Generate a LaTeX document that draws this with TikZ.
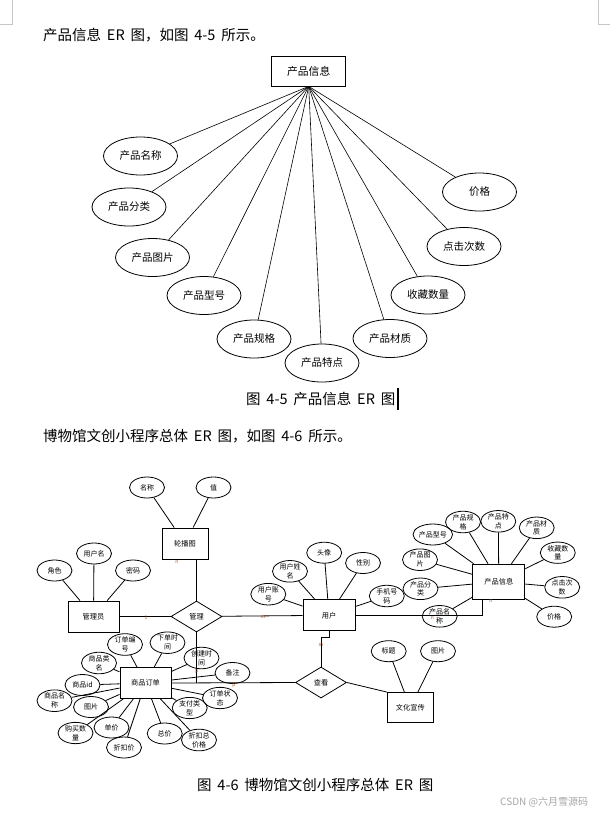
\documentclass[tikz,border=0pt]{standalone}
\usepackage{fontspec}
\setmainfont{Noto Sans CJK SC}
\usetikzlibrary{shapes.geometric}
\newcommand{\fsz}[2]{\fontsize{#1}{#2}\selectfont}
\newcommand{\hsp}{\hspace{0.4em}}
\definecolor{cardc}{RGB}{170,90,40}
\tikzset{
 bodytext/.style={anchor=west, inner sep=0, font=\fsz{14.5}{16}},
 bigent/.style={draw, line width=0.8, minimum width=74, minimum height=30, inner sep=0, font=\fsz{10.8}{12}},
 bigattr/.style={draw, ellipse, line width=0.8, minimum width=74, minimum height=38, inner sep=0, font=\fsz{10.5}{12}},
 bigline/.style={line width=0.6},
 ent/.style={draw, line width=0.9, minimum width=51, minimum height=31, inner sep=0, font=\fsz{7.2}{9}},
 attr/.style={draw, ellipse, line width=0.8, minimum width=35, minimum height=21, inner sep=0, align=center, font=\fsz{7}{8.8}},
 rel/.style={draw, diamond, aspect=1.6, line width=0.8, minimum width=51, minimum height=31, inner sep=0, font=\fsz{7.2}{9}},
 link/.style={line width=0.8},
 card/.style={inner sep=0, font=\fsz{5}{5}, text=cardc},
}
\begin{document}
\begin{tikzpicture}[x=1pt,y=-1pt]
\useasboundingbox[fill=white] (0,0) rectangle (610,814);
% crop marks
\draw[gray!45] (12.3,0) -- (12.3,24) -- (0,24);
\draw[gray!45] (598,0) -- (598,24) -- (610,24);
% texts
\node[bodytext] (t1) at (43,35) {产品信息\hsp ER\hsp 图，如图\hsp 4-5\hsp 所示。};
\node[bodytext] (c1) at (246,398.5) {图\hsp 4-5\hsp 产品信息\hsp ER\hsp 图};
\draw[line width=1.2] (398,388) -- (398,410);
\node[bodytext] (t2) at (43,436) {博物馆文创小程序总体\hsp ER\hsp 图，如图\hsp 4-6\hsp 所示。};
\node[bodytext] (c2) at (197,785) {图\hsp 4-6\hsp 博物馆文创小程序总体\hsp ER\hsp 图};
\node[anchor=west, inner sep=0, font=\fsz{10}{11}, text=gray!70] (wm) at (500,802.5) {CSDN @六月雪源码};

% ===== Figure 4-5 =====
\node[bigent] (P) at (308.7,71) {产品信息};
\node[bigattr] (a1) at (140.5,156) {产品名称};
\node[bigattr] (a2) at (129,207) {产品分类};
\node[bigattr] (a3) at (152.5,257.5) {产品图片};
\node[bigattr] (a4) at (204,295.5) {产品型号};
\node[bigattr] (a5) at (254,339) {产品规格};
\node[bigattr] (a6) at (322,363) {产品特点};
\node[bigattr] (a7) at (390,338.5) {产品材质};
\node[bigattr] (a8) at (428,295) {收藏数量};
\node[bigattr] (a9) at (464,246.5) {点击次数};
\node[bigattr] (a10) at (479.5,192) {价格};
\foreach \i in {1,...,10} \draw[bigline] (P.south) -- (a\i);

% ===== Figure 4-6 =====
% 轮播图
\node[ent, minimum width=46] (lbt) at (185,543.5) {轮播图};
\node[attr] (mc) at (147,487.5) {名称};
\node[attr] (zhi) at (213.5,487.5) {值};
\draw[link] (mc) -- (lbt);
\draw[link] (zhi) -- (lbt);
% 管理员
\node[ent] (gly) at (93.5,616.5) {管理员};
\node[attr] (js) at (54.5,570.5) {角色};
\node[attr] (yhm) at (94,553.5) {用户名};
\node[attr] (mm) at (133,570.5) {密码};
\foreach \n in {js,yhm,mm} \draw[link] (\n) -- (gly);
% 管理
\node[rel] (gl) at (196.5,616.5) {管理};
% 用户
\node[ent, minimum width=52] (yh) at (329,615.3) {用户};
\node[attr] (yhzh) at (268.3,594.2) {用户账\\号};
\node[attr] (yhxm) at (290,571.3) {用户姓\\名};
\node[attr] (tx) at (324.2,552.7) {头像};
\node[attr] (xb) at (363,563) {性别};
\node[attr] (sjhm) at (386.8,596) {手机号\\码};
\foreach \n in {yhzh,yhxm,tx,xb,sjhm} \draw[link] (\n) -- (yh);
% 产品信息
\node[ent, minimum width=52, minimum height=35] (cp) at (498.8,581.7) {产品信息};
\node[attr] (cpmc) at (439.7,616.3) {产品名\\称};
\node[attr] (cpfl) at (420.5,588.8) {产品分\\类};
\node[attr] (cptp) at (420,559.7) {产品图\\片};
\node[attr] (cpxh) at (432.8,534.5) {产品型号};
\node[attr] (cpgg) at (463,522) {产品规\\格};
\node[attr] (cptd) at (498.3,521.3) {产品特\\点};
\node[attr] (cpcz) at (536.7,527.8) {产品材\\质};
\node[attr] (scsl) at (557.8,552.7) {收藏数\\量};
\node[attr] (djcs) at (562.2,587.3) {点击次\\数};
\node[attr] (jg) at (554.2,616.7) {价格};
\foreach \n in {cpmc,cpfl,cptp,cpxh,cpgg,cptd,cpcz,scsl,djcs,jg} \draw[link] (\n) -- (cp);
% 商品订单
\node[ent] (dd) at (145.5,683) {商品订单};
\node[attr] (ddbh) at (125,644.5) {订单编\\号};
\node[attr] (xdsj) at (167.5,642.7) {下单时\\间};
\node[attr] (cjsj) at (201.5,658) {创建时\\间};
\node[attr] (bz) at (232.5,673) {备注};
\node[attr] (ddzt) at (220,698) {订单状\\态};
\node[attr] (zflx) at (189.7,708) {支付类\\型};
\node[attr] (zkzj) at (199,740) {折扣总\\价格};
\node[attr] (zj) at (164.7,733.5) {总价};
\node[attr] (zkj) at (124,747.5) {折扣价};
\node[attr] (djia) at (111.5,727.5) {单价};
\node[attr] (gmsl) at (75.5,733) {购买数\\量};
\node[attr] (tp) at (91,707) {图片};
\node[attr] (spmc) at (54.5,700.7) {商品名\\称};
\node[attr] (spid) at (82.5,685) {商品id};
\node[attr] (splm) at (99,663) {商品类\\名};
\foreach \n in {ddbh,xdsj,cjsj,bz,ddzt,zflx,zkzj,zj,zkj,djia,gmsl,tp,spmc,spid,splm} \draw[link] (\n) -- (dd);
% 查看 & 文化宣传
\node[rel] (ck) at (321,682.5) {查看};
\node[ent, minimum width=46, minimum height=30] (wh) at (410.3,707.5) {文化宣传};
\node[attr] (bt) at (388.7,651.2) {标题};
\node[attr] (whtp) at (438,651.2) {图片};
\draw[link] (bt) -- (wh);
\draw[link] (whtp) -- (wh);
% relationships
\coordinate (cpk) at (482.3,599.2);
\draw[link] (gly) -- (gl);
\draw[link] (gl) -- (yh);
\draw[link] (gl.north) -- (gl.north |- lbt.south);
\draw[link] (gl.south) -- (gl.south |- dd.east);
\draw[link] (dd.east) -- (ck.west);
\draw[link] (yh.south) -- ++(0,6.5) -| (ck.north);
\draw[link] (ck.east) -- (wh.north west);
\draw[link] (yh.east) -| (cpk);
% cardinalities
\node[card] (k1) at (146,617.5) {1};
\node[card] (k2) at (263,617.5) {m};
\node[card] (k3) at (177,562) {n};
\node[card] (k4) at (197,672) {p};
\node[card] (k5) at (234,686) {p};
\node[card] (k6) at (321,645) {m};
\node[card] (k7) at (491,601.5) {n};
\node[card] (k8) at (432.3,618.5) {n};
\end{tikzpicture}
\end{document}
